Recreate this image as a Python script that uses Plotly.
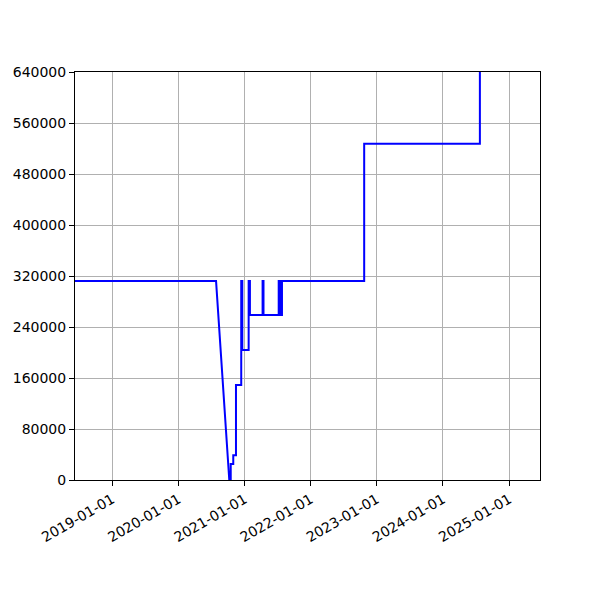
import plotly.graph_objects as go

# sample points (vertical steps = two points on the same day)
dates = [
    "2018-06-01", "2020-07-27", "2020-10-08", "2020-10-16",
    "2020-10-16", "2020-10-30", "2020-10-30", "2020-11-14",
    "2020-11-14", "2020-12-13", "2020-12-13", "2020-12-19",
    "2020-12-19", "2021-01-23", "2021-01-23", "2021-01-30",
    "2021-01-30", "2021-04-10", "2021-04-10", "2021-04-15",
    "2021-04-15", "2021-07-08", "2021-07-08", "2021-07-17",
    "2021-07-17", "2021-07-26", "2021-07-26", "2022-10-23",
    "2022-10-23", "2024-07-23", "2024-07-23", "2025-06-30",
]
values = [
    312000, 312000, 0, 0,
    25000, 25000, 39000, 39000,
    149000, 149000, 312000, 312000,
    204000, 204000, 312000, 312000,
    259000, 259000, 312000, 312000,
    259000, 259000, 312000, 312000,
    259000, 259000, 312000, 312000,
    527500, 527500, 700000, 700000,
]

year_ticks = ["2019-01-01", "2020-01-01", "2021-01-01", "2022-01-01",
              "2023-01-01", "2024-01-01", "2025-01-01"]
y_ticks = [0, 80000, 160000, 240000, 320000, 400000, 480000, 560000, 640000]

fig = go.Figure()
fig.add_trace(go.Scatter(
    x=dates,
    y=values,
    mode="lines",
    line=dict(color="blue", width=2),
    hoverinfo="x+y",
))

axis_style = dict(
    showline=True,
    linecolor="black",
    linewidth=1,
    mirror=True,
    ticks="outside",
    ticklen=5,
    tickcolor="black",
    showgrid=True,
    gridcolor="#b0b0b0",
    gridwidth=0.8,
    zeroline=False,
    tickfont=dict(family="DejaVu Sans", size=14, color="black"),
)

fig.update_layout(
    width=600,
    height=600,
    margin=dict(l=75, r=60, t=72, b=120),
    paper_bgcolor="white",
    plot_bgcolor="white",
    showlegend=False,
    xaxis=dict(
        range=["2018-06-09", "2025-06-20"],
        tickvals=year_ticks,
        ticktext=year_ticks,
        tickangle=-30,
        **axis_style,
    ),
    yaxis=dict(
        range=[0, 640000],
        tickvals=y_ticks,
        ticktext=[str(v) for v in y_ticks],
        **axis_style,
    ),
)

# page body has a default 8px margin, drop it so the figure sits at 0,0
fig.write_html(
    "out.html",
    config={"displayModeBar": False},
    post_script="document.body.style.margin='0px';",
)
